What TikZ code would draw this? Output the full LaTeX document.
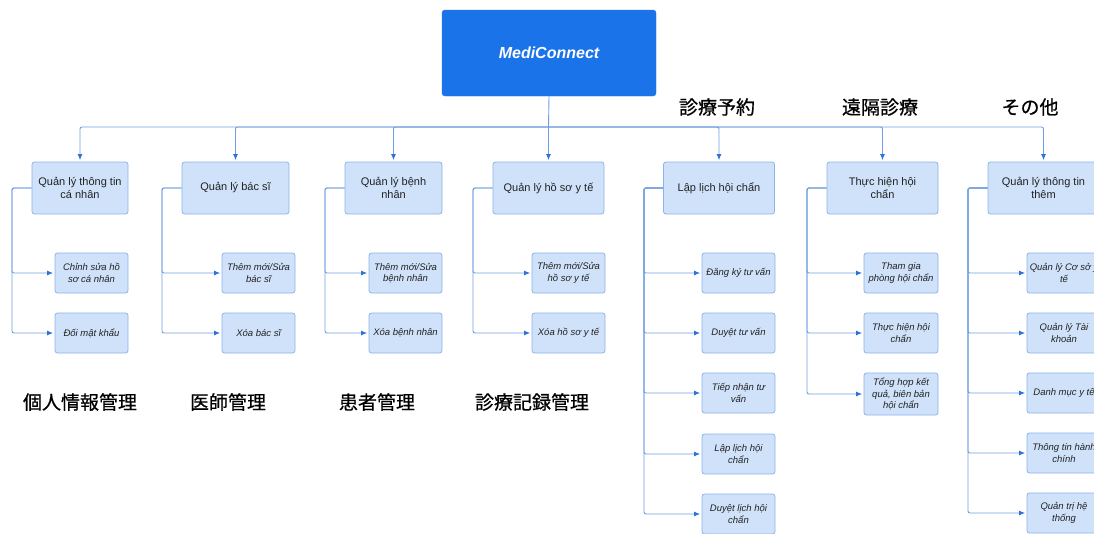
\documentclass[tikz,border=0pt]{standalone}
\usepackage{fontspec}
\setmainfont{Liberation Sans}
\newfontfamily\cjk[FakeBold=0.6]{Noto Sans CJK JP}
\usetikzlibrary{arrows.meta}
\definecolor{rootblue}{HTML}{1A73E8}
\definecolor{boxfill}{HTML}{CFE2FA}
\definecolor{boxline}{HTML}{8DB3EA}
\definecolor{linkblue}{HTML}{6F9FE0}
\definecolor{tipblue}{HTML}{2C72D8}
\definecolor{txt}{HTML}{222222}
\begin{document}
\begin{tikzpicture}[x=1pt,y=-1pt,
  rootbox/.style={fill=rootblue, draw=rootblue, rounded corners=3pt, minimum width=214pt, minimum height=86pt,
    text=white, font=\fontsize{16}{19}\selectfont\bfseries\itshape},
  mainbox/.style={draw=boxline, fill=boxfill, rounded corners=2.5pt, line width=0.8pt, align=center,
    minimum height=52pt, inner sep=2pt, text=txt, font=\fontsize{11}{13.5}\selectfont},
  subbox/.style={draw=boxline, fill=boxfill, rounded corners=2.5pt, line width=0.8pt, align=center,
    minimum height=40pt, minimum width=73pt, inner sep=1pt, text=txt, font=\fontsize{9.5}{11.5}\selectfont\itshape},
  link/.style={draw=linkblue, line width=0.9pt, rounded corners=2pt},
  arr/.style={link, -{Latex[length=6pt,width=5pt,color=tipblue]}, shorten >=1.5pt},
  jlabel/.style={font=\cjk\fontsize{19}{22}\selectfont, inner sep=0pt, text=black}
]
\clip (0,0) rectangle (1094,533);
\fill[white] (0,0) rectangle (1094,533);

% root
\node[rootbox] (root) at (549,53) {MediConnect};

% top level
\node[mainbox, minimum width=96pt]  (t1) at (80,188)    {Quản lý thông tin\\cá nhân};
\node[mainbox, minimum width=107pt] (t2) at (235.5,188) {Quản lý bác sĩ};
\node[mainbox, minimum width=97pt]  (t3) at (393.5,188) {Quản lý bệnh\\nhân};
\node[mainbox, minimum width=111pt] (t4) at (548.5,188) {Quản lý hồ sơ y tế};
\node[mainbox, minimum width=111pt] (t5) at (719,188)   {Lập lịch hội chẩn};
\node[mainbox, minimum width=111pt] (t6) at (882.5,188) {Thực hiện hội\\chẩn};
\node[mainbox, minimum width=111pt] (t7) at (1043.5,188) {Quản lý thông tin\\thêm};

% sub boxes
\node[subbox] (s11) at (91.5,273) {Chỉnh sửa hồ\\sơ cá nhân};
\node[subbox] (s12) at (91.5,333) {Đối mật khẩu};
\node[subbox] (s21) at (258.5,273) {Thêm mới/Sửa\\bác sĩ};
\node[subbox] (s22) at (258.5,333) {Xóa bác sĩ};
\node[subbox] (s31) at (405.5,273) {Thêm mới/Sửa\\bệnh nhân};
\node[subbox] (s32) at (405.5,333) {Xóa bệnh nhân};
\node[subbox] (s41) at (568.5,273) {Thêm mới/Sửa\\hồ sơ y tế};
\node[subbox] (s42) at (568.5,333) {Xóa hồ sơ y tế};
\node[subbox] (s51) at (738.5,273) {Đăng ký tư vấn};
\node[subbox] (s52) at (738.5,333) {Duyệt tư vấn};
\node[subbox] (s53) at (738.5,393) {Tiếp nhận tư\\vấn};
\node[subbox] (s54) at (738.5,454) {Lập lịch hội\\chẩn};
\node[subbox] (s55) at (738.5,514) {Duyệt lịch hội\\chẩn};
\node[subbox, minimum width=74pt] (s61) at (901,273) {Tham gia\\phòng hội chẩn};
\node[subbox, minimum width=74pt] (s62) at (901,333) {Thực hiện hội\\chẩn};
\node[subbox, minimum width=74pt, minimum height=42pt] (s63) at (901,394) {Tổng hợp kết\\quả, biên bản\\hội chẩn};
\node[subbox, minimum width=74pt] (s71) at (1064,273) {Quản lý Cơ sở y\\tế};
\node[subbox, minimum width=74pt] (s72) at (1064,333) {Quản lý Tài\\khoản};
\node[subbox, minimum width=74pt] (s73) at (1064,393) {Danh mục y tế};
\node[subbox, minimum width=74pt] (s74) at (1064,453) {Thông tin hành\\chính};
\node[subbox, minimum width=74pt] (s75) at (1064,513) {Quản trị hệ\\thống};

% bus
\coordinate (bm) at (548.5,127);
\draw[link] (root.south) -- (bm);
\foreach \t in {t1,t2,t3,t4,t5,t6,t7}{
  \draw[arr] (bm) -| (\t.north);
}

% column connectors
\coordinate (v1) at (12,188);
\coordinate (v2) at (162,188);
\coordinate (v3) at (325,188);
\coordinate (v4) at (473,188);
\coordinate (v5) at (644,188);
\coordinate (v6) at (807,188);
\coordinate (v7) at (968,188);
\foreach \s in {s11,s12}{\draw[arr] (t1.west) -- (v1) |- (\s.west);}
\foreach \s in {s21,s22}{\draw[arr] (t2.west) -- (v2) |- (\s.west);}
\foreach \s in {s31,s32}{\draw[arr] (t3.west) -- (v3) |- (\s.west);}
\foreach \s in {s41,s42}{\draw[arr] (t4.west) -- (v4) |- (\s.west);}
\foreach \s in {s51,s52,s53,s54,s55}{\draw[arr] (t5.west) -- (v5) |- (\s.west);}
\foreach \s in {s61,s62,s63}{\draw[arr] (t6.west) -- (v6) |- (\s.west);}
\foreach \s in {s71,s72,s73,s74,s75}{\draw[arr] (t7.west) -- (v7) |- (\s.west);}

% Japanese labels
\node[jlabel] (j5) at (717,107) {診療予約};
\node[jlabel] (j6) at (880,107) {遠隔診療};
\node[jlabel] (j7) at (1030,107) {その他};
\node[jlabel] (j1) at (80,402) {個人情報管理};
\node[jlabel] (j2) at (228,402) {医師管理};
\node[jlabel] (j3) at (377,402) {患者管理};
\node[jlabel] (j4) at (532,402) {診療記録管理};
\end{tikzpicture}
\end{document}
